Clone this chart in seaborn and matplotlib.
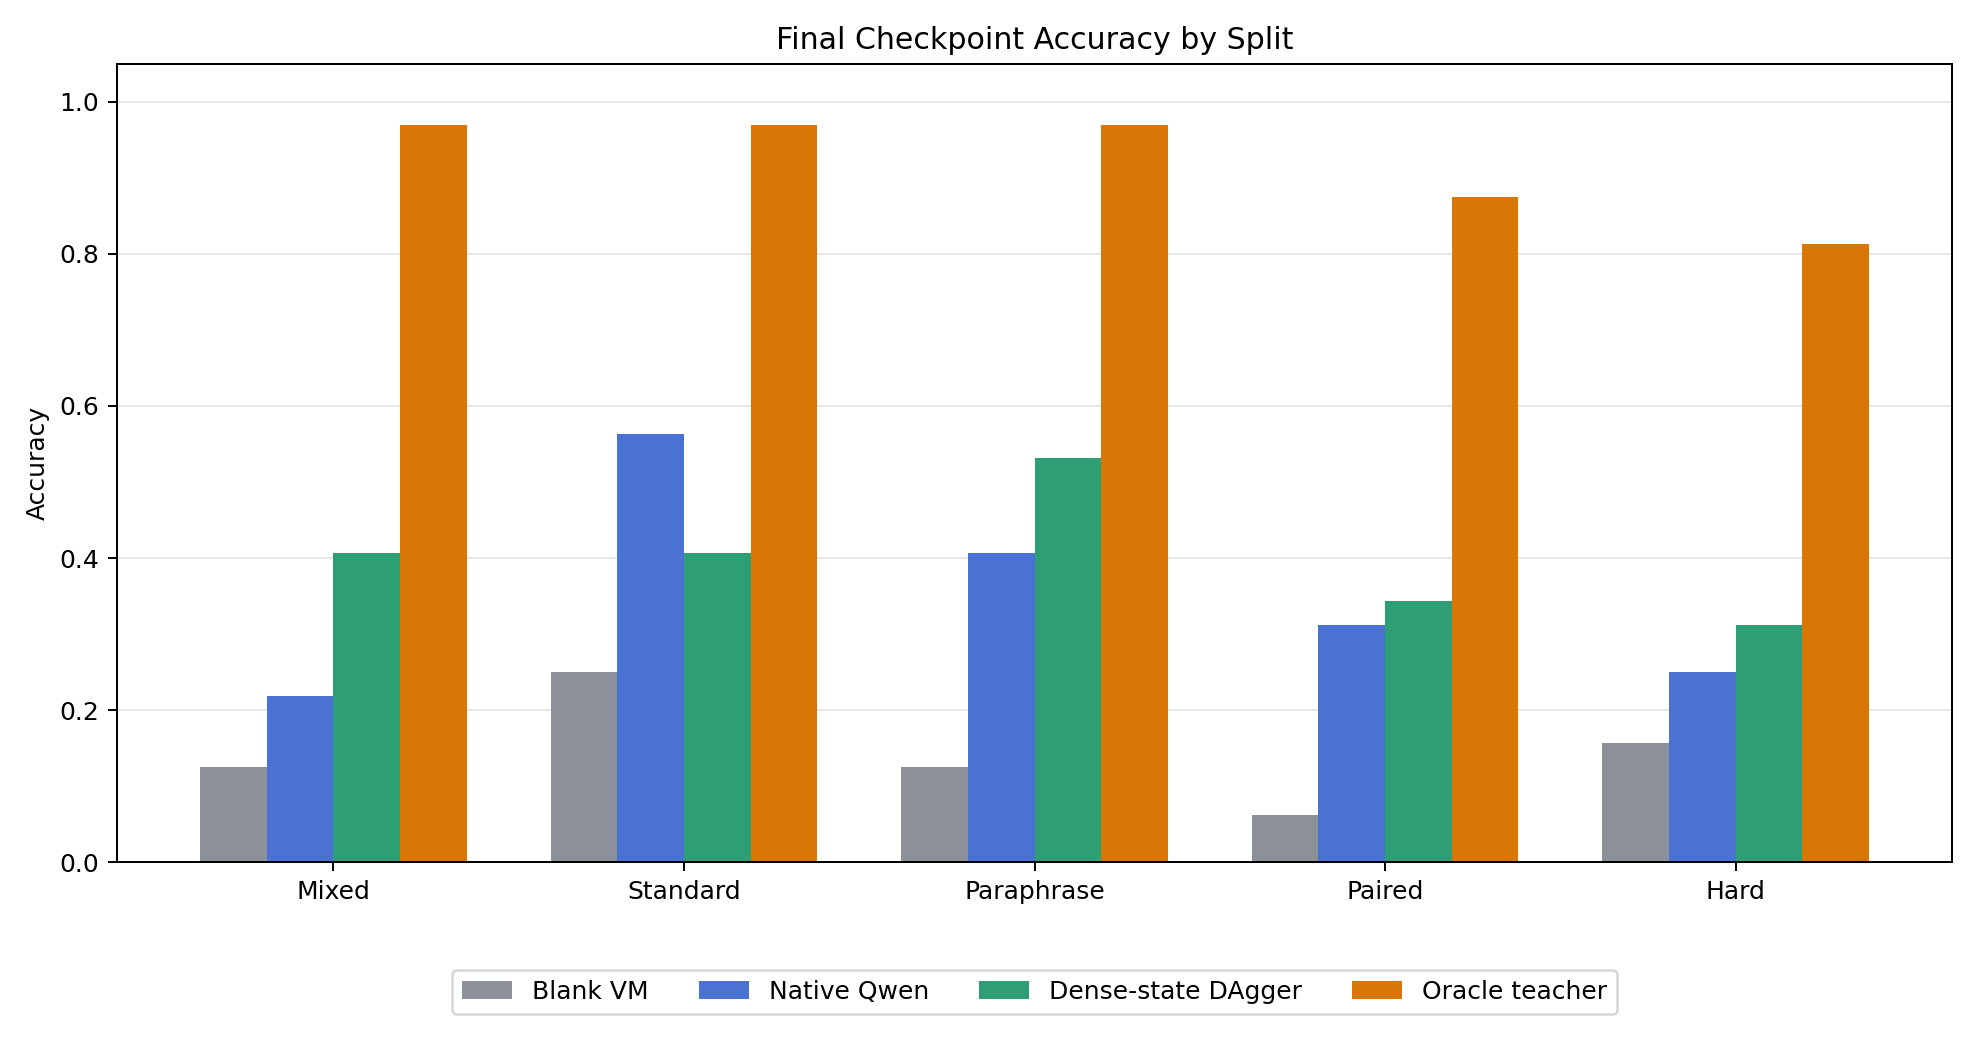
import pandas as pd
import matplotlib
matplotlib.use("Agg")
import matplotlib.pyplot as plt
import seaborn as sns

splits = ["Mixed", "Standard", "Paraphrase", "Paired", "Hard"]
methods = ["Blank VM", "Native Qwen", "Dense-state DAgger", "Oracle teacher"]
blank_vm = [0.125, 0.25, 0.125, 0.0625, 0.15625]
native_qwen = [0.21875, 0.5625, 0.40625, 0.3125, 0.25]
dense_dagger = [0.40625, 0.40625, 0.53125, 0.34375, 0.3125]
oracle_teacher = [0.96875, 0.96875, 0.96875, 0.875, 0.8125]
colors = ["#8c9099", "#4a72d3", "#2e9e74", "#d97706"]

rows = []
for method, vals in zip(methods, [blank_vm, native_qwen, dense_dagger, oracle_teacher]):
    for split, v in zip(splits, vals):
        rows.append({"Split": split, "Method": method, "Accuracy": v})
df = pd.DataFrame(rows)

fig, ax = plt.subplots(figsize=(11, 5.8), dpi=180)
sns.barplot(data=df, x="Split", y="Accuracy", hue="Method", order=splits,
            hue_order=methods, palette=colors, width=0.76, saturation=1,
            errorbar=None, ax=ax, zorder=2)

# matplotlib-style 5% margins around the bars
ax.set_xlim(-0.618, 4.618)
ax.set_ylim(0, 1.05)
ax.set_yticks([0.0, 0.2, 0.4, 0.6, 0.8, 1.0])
ax.grid(axis="y", color="#e6e6e6", linewidth=0.8, zorder=0)
ax.set_axisbelow(True)
ax.set_xlabel("")
ax.set_ylabel("Accuracy")
ax.set_title("Final Checkpoint Accuracy by Split", fontsize=12)

ax.legend(loc="center", bbox_to_anchor=(0.5, -0.162), ncol=4, frameon=True)

fig.subplots_adjust(left=0.059, right=0.986, top=0.939, bottom=0.174)
fig.savefig("out.png", dpi=180)
